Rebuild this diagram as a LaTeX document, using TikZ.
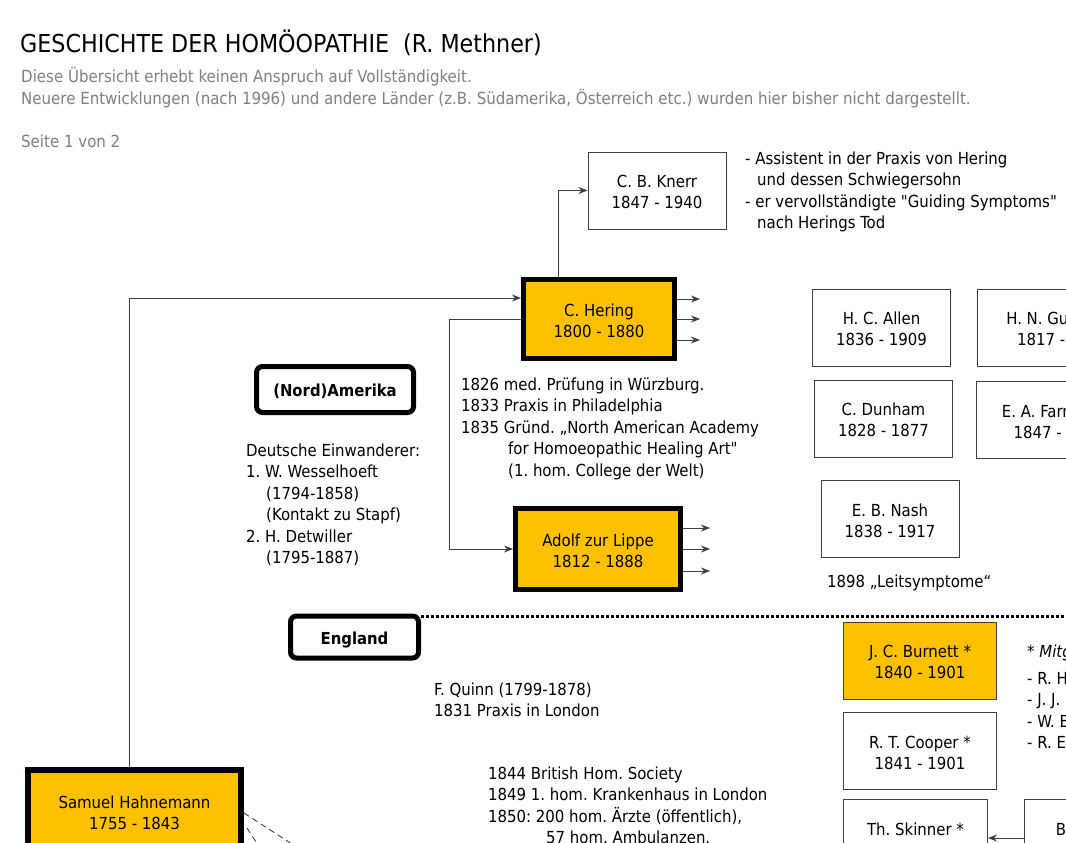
\documentclass[tikz,border=0pt]{standalone}
\usepackage{fontspec}
\IfFontExistsTF{DejaVu Sans Condensed}{\setmainfont{DejaVu Sans Condensed}[Ligatures=TeXOff]}{\setmainfont{DejaVu Sans}[FakeStretch=0.9,Ligatures=TeXOff]}
\usetikzlibrary{arrows.meta}
\definecolor{hfill}{RGB}{255,192,0}
\definecolor{greytext}{RGB}{128,128,128}
\definecolor{thinline}{RGB}{64,64,64}
\newcommand\fsr{\rule{0pt}{16pt}}
\frenchspacing
\begin{document}
\frenchspacing
\begin{tikzpicture}[x=1pt,y=-1pt,
  thinbox/.style={draw=thinline, line width=1pt, align=center, inner sep=0pt,
    minimum width=138pt, minimum height=77pt, font=\fontsize{16.6}{21}\selectfont},
  thickbox/.style={draw=black, line width=5pt, fill=hfill, align=center, inner sep=0pt,
    font=\fontsize{16.6}{21}\selectfont},
  regionbox/.style={draw=black, line width=5pt, rounded corners=6pt, inner sep=0pt,
    text height=14pt, text depth=0pt, font=\bfseries\fontsize{16.5}{20}\selectfont},
  textblock/.style={anchor=north west, inner sep=0pt, align=left,
    font=\fontsize{16.6}{21.5}\selectfont},
  greyblock/.style={anchor=north west, inner sep=0pt, align=left, text=greytext,
    font=\fontsize{16.7}{22}\selectfont},
  arr/.style={-{Stealth[length=9pt,width=7pt]}, line width=0.8pt, draw=thinline},
  dashline/.style={line width=0.8pt, draw=black!80, dash pattern=on 6pt off 4pt},
  dotline/.style={line width=3pt, draw=black, dash pattern=on 3pt off 2pt},
]
\useasboundingbox (0,0) rectangle (1066,843);
\fill[white] (0,0) rectangle (1066,843);
\clip (0,0) rectangle (1066,843);

% header
\node[anchor=base west, inner sep=0pt, font=\fontsize{24.7}{28}\selectfont] (title) at (20,53)
  {GESCHICHTE DER HOMÖOPATHIE\ \ (R. Methner)};
\node[greyblock] (sub) at (21,67) {\strut Diese Übersicht erhebt keinen Anspruch auf Vollständigkeit.\\
  Neuere Entwicklungen (nach 1996) und andere Länder (z.B. Südamerika, Österreich etc.) wurden hier bisher nicht dargestellt.};
\node[greyblock] (seite) at (21,132) {\strut Seite 1 von 2};

% boxes
\node[thinbox] (knerr) at (657,190.5) {\fsr C. B. Knerr\\1847 - 1940};
\node[thickbox, minimum width=151pt, minimum height=79pt] (hering) at (599,319) {\fsr C. Hering\\1800 - 1880};
\node[thickbox, minimum width=165pt, minimum height=81pt] (lippe) at (598,549) {\fsr Adolf zur Lippe\\1812 - 1888};
\node[thickbox, line width=6pt, minimum width=213pt, minimum height=82pt] (hahn) at (134.5,811) {\fsr Samuel Hahnemann\\1755 - 1843};
\node[regionbox, minimum width=157pt, minimum height=46pt] (nordam) at (335,389.5) {(Nord)Amerika};
\node[regionbox, minimum width=128pt, minimum height=42pt] (england) at (354.5,637) {England};

\node[thinbox] (allen) at (881.5,327.5) {\fsr H. C. Allen\\1836 - 1909};
\node[thinbox, minimum width=170pt] (guernsey) at (1062.5,327.5) {\fsr H. N. Guernsey\\1817 - 1885};
\node[thinbox] (dunham) at (883.5,418.5) {\fsr C. Dunham\\1828 - 1877};
\node[thinbox, minimum width=165pt] (farrington) at (1059,420) {\fsr E. A. Farrington\\1847 - 1885};
\node[thinbox] (nash) at (890,519) {\fsr E. B. Nash\\1838 - 1917};
\node[thinbox, fill=hfill, minimum width=153pt] (burnett) at (920,660.5) {\fsr J. C. Burnett *\\1840 - 1901};
\node[thinbox, minimum width=153pt] (cooper) at (920,751) {\fsr R. T. Cooper *\\1841 - 1901};
\node[thinbox, minimum width=144pt] (skinner) at (915.5,838) {\fsr Th. Skinner *\\1825 - 1906};
\node[thinbox, minimum width=129pt] (bbox) at (1089,838) {\fsr B. Fincke\\1821 - 1906};

% text blocks
\node[textblock] (knerrnote) at (745,149) {\strut - Assistent in der Praxis von Hering\\
  \hspace*{12pt}und dessen Schwiegersohn\\
  - er vervollständigte "Guiding Symptoms"\\
  \hspace*{12pt}nach Herings Tod};
\node[textblock] (heringnote) at (461,375) {\strut 1826 med. Prüfung in Würzburg.\\
  1833 Praxis in Philadelphia\\
  1835 Gründ. „North American Academy\\
  \hspace*{47pt}for Homoeopathic Healing Art"\\
  \hspace*{47pt}(1. hom. College der Welt)};
\node[textblock] (einw) at (246,441) {\strut Deutsche Einwanderer:\\
  1. W. Wesselhoeft\\
  \hspace*{20pt}(1794-1858)\\
  \hspace*{20pt}(Kontakt zu Stapf)\\
  2. H. Detwiller\\
  \hspace*{20pt}(1795-1887)};
\node[textblock] (leit) at (827,572) {\strut 1898 „Leitsymptome“};
\node[textblock] (quinn) at (434,680) {\strut F. Quinn (1799-1878)\\1831 Praxis in London};
\node[textblock, font=\itshape\fontsize{16.6}{21.5}\selectfont] (mitg) at (1027,642) {\strut * Mitglieder des Cooper Club};
\node[textblock] (mitglist) at (1027,669) {\strut - R. Hughes\\- J. J. Drysdale\\- W. Bayes\\- R. E. Dudgeon};
\node[textblock] (british) at (488,764) {\strut 1844 British Hom. Society\\
  1849 1. hom. Krankenhaus in London\\
  1850: 200 hom. Ärzte (öffentlich),\\
  \hspace*{58pt}57 hom. Ambulanzen.};

% connectors
\draw[arr] ([xshift=-5.5pt]hahn.north) |- ([yshift=21pt]hering.west);
\draw[arr] ([xshift=-41pt]hering.north) |- (knerr.west);
\draw[arr] (hering.west) -- ++(-72,0) |- (lippe.west);
\foreach \dy in {20,0,-21} \draw[arr] ([yshift=\dy pt]hering.east) -- ++(23,0);
\foreach \dy in {21,0,-22} \draw[arr] ([yshift=\dy pt]lippe.east) -- ++(27,0);
\draw[arr] (bbox.west) -- (skinner.east);

\coordinate (dash1end) at (298,848);
\coordinate (dash2end) at (260,848);
\draw[dashline] ([yshift=-2pt]hahn.east) -- (dash1end);
\draw[dashline] ([yshift=-17pt,xshift=3pt]hahn.east) -- (dash2end);

\coordinate (dotend) at (1070,616);
\draw[dotline] ([yshift=-2.5pt]england.north east) -- (dotend);
\end{tikzpicture}
\end{document}
